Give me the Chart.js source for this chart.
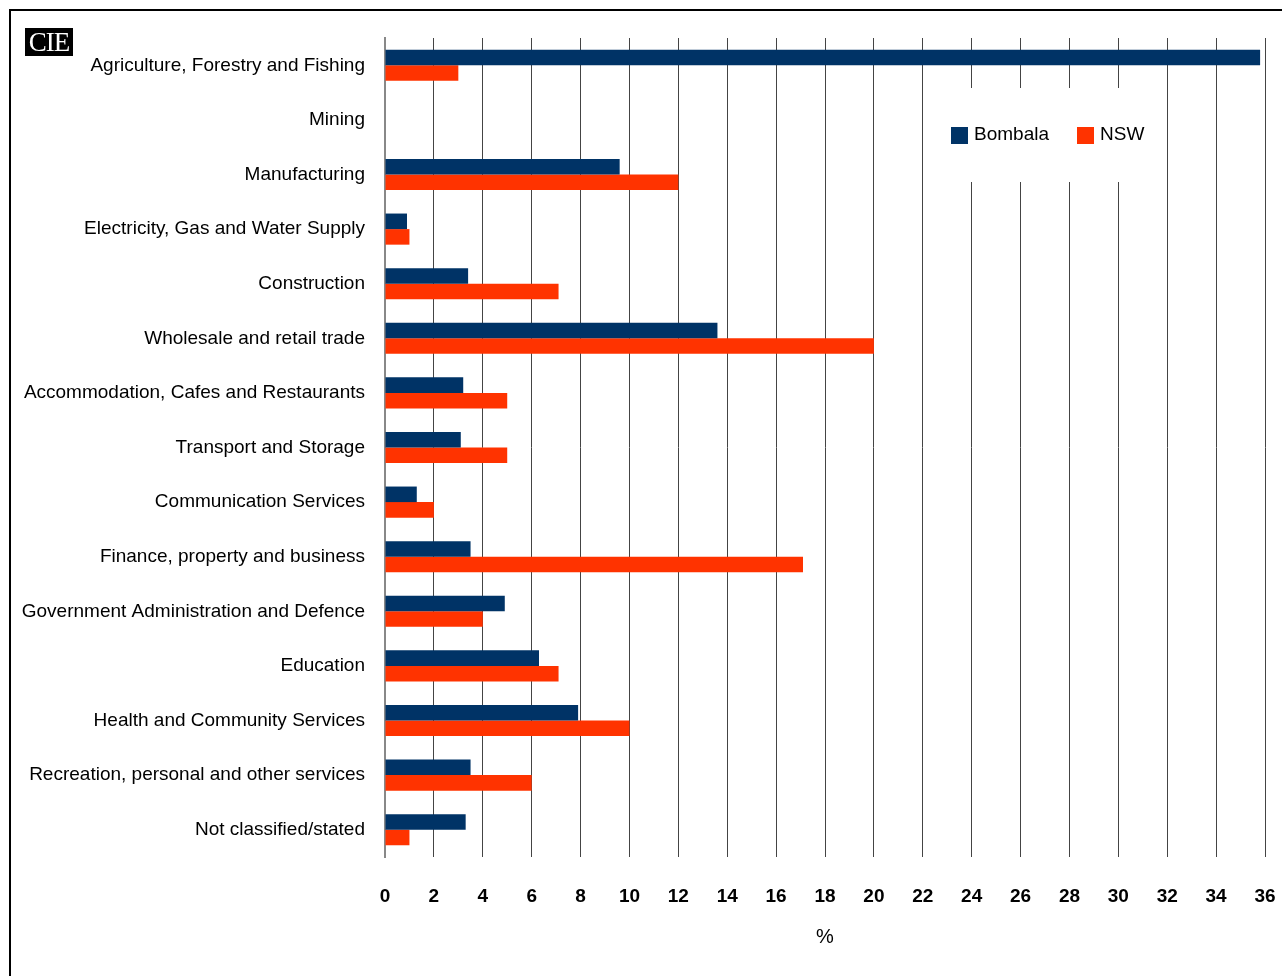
<!DOCTYPE html>
<html>
<head>
<meta charset="utf-8">
<script src="https://cdn.jsdelivr.net/npm/chart.js@4"></script>
<style>
  body { margin: 0; background: #fff; overflow: hidden; }
  #wrap { position: absolute; left: 0; top: 0; width: 1282px; height: 976px; }
  #frame { position: absolute; left: 9px; top: 9px; width: 1400px; height: 1100px;
           border: 2px solid #000; pointer-events: none; }
  #logo { position: absolute; left: 25px; top: 28px; width: 48px; height: 28px; background: #000;
          color: #fff; font: 27px/28px "Liberation Serif", serif; text-align: center; letter-spacing: -1px; }
</style>
</head>
<body>
<div id="wrap">
  <canvas id="grafico" width="1282" height="976"></canvas>
  <div id="frame"></div>
  <div id="logo">CIE</div>
</div>
<script>
const industrias = [
    'Agriculture, Forestry and Fishing',
    'Mining',
    'Manufacturing',
    'Electricity, Gas and Water Supply',
    'Construction',
    'Wholesale and retail trade',
    'Accommodation, Cafes and Restaurants',
    'Transport and Storage',
    'Communication Services',
    'Finance, property and business',
    'Government Administration and Defence',
    'Education',
    'Health and Community Services',
    'Recreation, personal and other services',
    'Not classified/stated'
];
const bombala = [35.8, 0, 9.6, 0.9, 3.4, 13.6, 3.2, 3.1, 1.3, 3.5, 4.9, 6.3, 7.9, 3.5, 3.3];
const nsw = [3.0, 0, 12.0, 1.0, 7.1, 20.0, 5.0, 5.0, 2.0, 17.1, 4.0, 7.1, 10.0, 6.0, 1.0];
const ticksX = [0, 2, 4, 6, 8, 10, 12, 14, 16, 18, 20, 22, 24, 26, 28, 30, 32, 34, 36];

const fonte = '"Liberation Sans Narrow", "Arial Narrow", "Liberation Sans", sans-serif';

// legenda dentro da area do grafico, com fundo branco por cima das linhas
const legendaInterna = {
    id: 'legendaInterna',
    afterDatasetsDraw(chart) {
        const ctx = chart.ctx;
        ctx.save();
        ctx.fillStyle = '#fff';
        ctx.fillRect(930, 88, 230, 94);
        ctx.font = '19px ' + fonte;
        ctx.textBaseline = 'middle';
        let x = 951;
        chart.data.datasets.forEach(ds => {
            ctx.fillStyle = ds.backgroundColor;
            ctx.fillRect(x, 127, 17, 17);
            ctx.fillStyle = '#000';
            ctx.fillText(ds.label, x + 23, 135);
            x += 126;
        });
        ctx.restore();
    }
};

new Chart(document.getElementById('grafico'), {
    type: 'bar',
    data: {
        labels: industrias,
        datasets: [{
            label: 'Bombala',
            data: bombala,
            backgroundColor: '#003366',
            categoryPercentage: 0.57,
            barPercentage: 1
        }, {
            label: 'NSW',
            data: nsw,
            backgroundColor: '#ff3300',
            categoryPercentage: 0.57,
            barPercentage: 1
        }]
    },
    options: {
        indexAxis: 'y',
        responsive: false,
        animation: false,
        layout: { padding: { top: 38, right: 17, bottom: 0, left: 0 } },
        plugins: {
            legend: { display: false },
            tooltip: { enabled: false }
        },
        scales: {
            y: {
                grid: { display: false },
                border: { display: true, color: '#888', width: 2 },
                ticks: { color: '#000', padding: 12, font: { family: fonte, size: 19 } },
                afterFit: s => { s.width = 385; s.paddingTop = 0; s.paddingBottom = 0; }
            },
            x: {
                min: 0,
                max: 36,
                afterBuildTicks: s => { s.ticks = ticksX.map(v => ({ value: v })); },
                grid: { color: '#444', lineWidth: 1, drawTicks: false },
                border: { display: false },
                ticks: { color: '#000', padding: 28, font: { family: fonte, size: 19, weight: 'bold' } },
                title: {
                    display: true,
                    text: '%',
                    color: '#000',
                    font: { family: fonte, size: 20 },
                    padding: { top: 0, bottom: 27 }
                },
                afterFit: s => { s.height = 119; s.paddingLeft = 0; s.paddingRight = 0; }
            }
        }
    },
    plugins: [legendaInterna]
});
</script>
</body>
</html>
